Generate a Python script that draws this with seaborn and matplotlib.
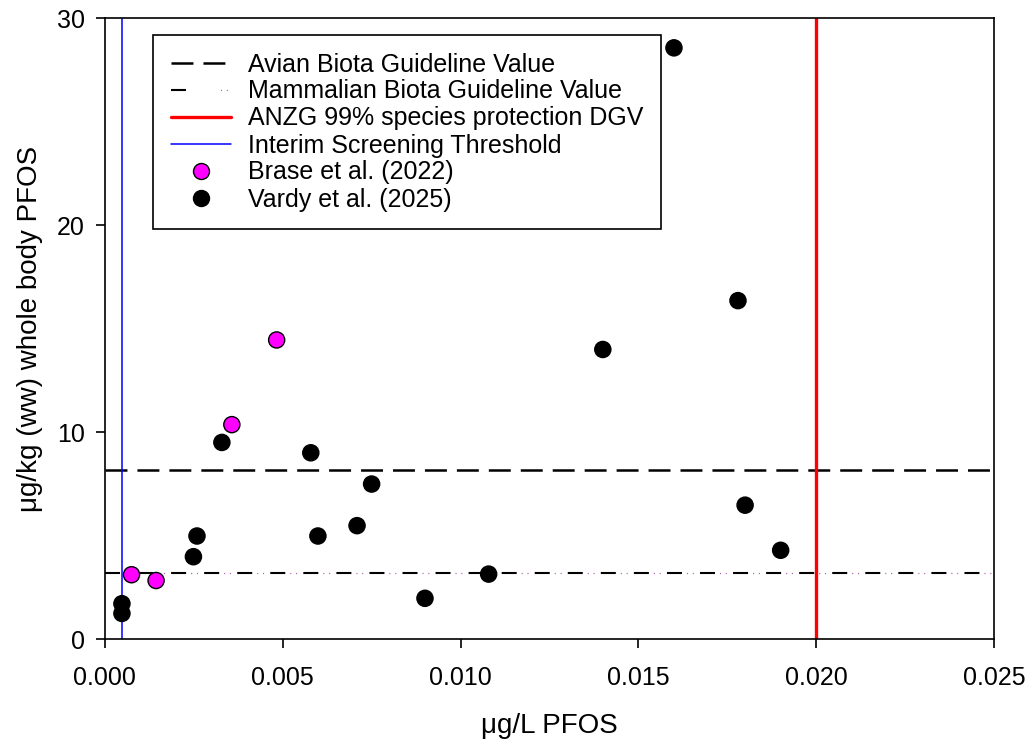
import matplotlib
matplotlib.use("Agg")
import matplotlib.pyplot as plt
from matplotlib.lines import Line2D
from matplotlib.legend_handler import HandlerTuple
import seaborn as sns
import pandas as pd

# PFOS in water (ug/L) vs whole-body PFOS in biota (ug/kg ww)
brase_x = [0.00075, 0.00144, 0.00357, 0.00483]
brase_y = [3.12, 2.84, 10.37, 14.46]
vardy_x = [0.00048, 0.00048, 0.00249, 0.00259, 0.00329, 0.00579, 0.00599,
           0.00709, 0.00750, 0.00900, 0.01079, 0.01400, 0.01600, 0.01780,
           0.01800, 0.01900]
vardy_y = [1.72, 1.25, 3.99, 4.99, 9.51, 9.01, 4.99,
           5.49, 7.50, 1.98, 3.15, 14.00, 28.57, 16.36,
           6.48, 4.30]

avian_value = 8.2
mammal_value = 3.18
anzg_dgv = 0.020
interim_threshold = 0.00048

study_brase = "Brase et al. (2022)"
study_vardy = "Vardy et al. (2025)"

df = pd.DataFrame({
    "water": brase_x + vardy_x,
    "biota": brase_y + vardy_y,
    "study": [study_brase] * len(brase_x) + [study_vardy] * len(vardy_x),
})

sns.set_theme(style="white")
plt.rcParams["font.family"] = ["Liberation Sans", "DejaVu Sans"]
plt.rcParams["lines.scale_dashes"] = False

fig = plt.figure(figsize=(10.28, 7.42), dpi=100)
ax = fig.add_axes([0.102, 0.1384, 0.865, 0.837])

# guideline lines
avian = ax.axhline(avian_value, color="black", lw=1.8, ls=(0, (15.8, 7.2)), zorder=2)
mam_dash = ax.axhline(mammal_value, color="black", lw=1.5, ls=(0, (10.8, 13.0)), zorder=2)
mam_dots = ax.axhline(mammal_value, color="#b060b0", lw=0.9,
                      ls=(9.8, (0.8, 3.4, 0.8, 18.8)), zorder=2)
red = ax.axvline(anzg_dgv, color="#ff0000", lw=2.4, zorder=2)
blue = ax.axvline(interim_threshold, color="#0000ff", lw=1.1, zorder=2)

sns.scatterplot(data=df, x="water", y="biota", hue="study",
                palette={study_brase: "#ff00ff", study_vardy: "black"},
                s=135, edgecolor="black", linewidth=1.0, ax=ax,
                legend=False, zorder=3)

ax.set_xlim(0, 0.025)
ax.set_ylim(0, 30)
ax.set_xticks([0.000, 0.005, 0.010, 0.015, 0.020, 0.025])
ax.set_xticklabels(["0.000", "0.005", "0.010", "0.015", "0.020", "0.025"])
ax.set_yticks([0, 10, 20, 30])
ax.tick_params(axis="both", which="major", direction="out", length=6.5, width=1.2,
               labelsize=18, colors="black", bottom=True, left=True)
ax.tick_params(axis="x", pad=13)
ax.tick_params(axis="y", pad=8)
for sp in ax.spines.values():
    sp.set_color("black")
    sp.set_linewidth(1.2)

ax.set_xlabel("\u03bcg/L PFOS", fontsize=20, labelpad=16, color="black")
ax.set_ylabel("\u03bcg/kg (ww) whole body PFOS", fontsize=20, labelpad=10, color="black")

h_brase = Line2D([], [], ls="none", marker="o", markersize=11.5,
                 markerfacecolor="#ff00ff", markeredgecolor="black", markeredgewidth=1.0)
h_vardy = Line2D([], [], ls="none", marker="o", markersize=11.5,
                 markerfacecolor="black", markeredgecolor="black", markeredgewidth=1.0)
handles = [avian, (mam_dash, mam_dots), red, blue, h_brase, h_vardy]
labels = ["Avian Biota Guideline Value", "Mammalian Biota Guideline Value",
          "ANZG 99% species protection DGV", "Interim Screening Threshold",
          study_brase, study_vardy]
leg = ax.legend(handles, labels, loc="upper left",
                bbox_to_anchor=(153 / 1028, 1 - 35 / 742), bbox_transform=fig.transFigure,
                borderaxespad=0, fontsize=18, frameon=True, fancybox=False,
                edgecolor="black", framealpha=1, handlelength=2.4, handletextpad=0.7,
                borderpad=0.7, labelspacing=0.12,
                handler_map={tuple: HandlerTuple(ndivide=None, pad=0)})
leg.get_frame().set_linewidth(1.2)
for t in leg.get_texts():
    t.set_color("black")

fig.savefig("out.png", dpi=100, facecolor="white")
